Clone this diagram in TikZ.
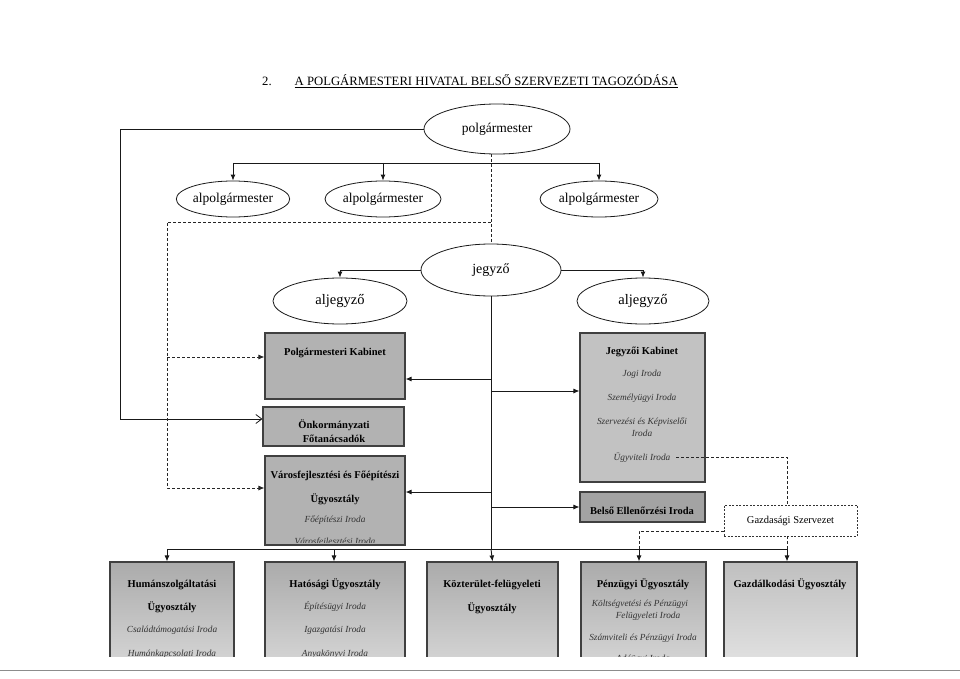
\documentclass[tikz,border=0pt]{standalone}
\usepackage{fontspec}
\setmainfont{Liberation Serif}
\usetikzlibrary{arrows.meta,shapes.geometric}
\begin{document}
\begin{tikzpicture}[x=1pt,y=-1pt,
  ell/.style={draw=black!90, line width=0.8pt, ellipse, inner sep=0pt, font=\fontsize{13.5}{15}\selectfont},
  gbox/.style={draw=black!75, line width=1.1pt, fill=black!30, inner sep=0pt},
  lbox/.style={draw=black!75, line width=1.1pt, top color=black!33, bottom color=black!12, inner sep=0pt},
  bt/.style={font=\fontsize{10.5}{12}\selectfont\bfseries, inner sep=0pt, text height=7.5pt, text depth=2.5pt, yshift=-2pt},
  itx/.style={font=\fontsize{9.3}{10.5}\selectfont\itshape, text=black!80, inner sep=0pt, text height=6.5pt, text depth=2pt, yshift=-1.5pt},
  conn/.style={line width=0.9pt, draw=black!90},
  dconn/.style={line width=0.9pt, draw=black!85, dash pattern=on 3pt off 2pt},
  arr/.style={-{Latex[length=6pt,width=5pt]}},
  oarr/.style={-{Straight Barb[length=6pt,width=9pt,line width=0.8pt]}},
]
\useasboundingbox (0,0) rectangle (960,679);

% title
\node[font=\fontsize{12.7}{14}\selectfont, anchor=base west, inner sep=0pt] (title) at (262,86) {2.\hspace{23pt}\underline{A POLGÁRMESTERI HIVATAL BELSŐ SZERVEZETI TAGOZÓDÁSA}};

% ellipses
\node[ell, minimum width=146pt, minimum height=50pt] (pm) at (497,129) {polgármester};
\node[ell, minimum width=112pt, minimum height=36pt] (a1) at (233,199) {\raisebox{-4pt}{alpolgármester}};
\node[ell, minimum width=116pt, minimum height=36pt] (a2) at (383,199) {\raisebox{-4pt}{alpolgármester}};
\node[ell, minimum width=118pt, minimum height=36pt] (a3) at (599,199) {\raisebox{-4pt}{alpolgármester}};
\node[ell, font=\fontsize{14}{16}\selectfont, minimum width=140pt, minimum height=52pt] (jg) at (491,270) {jegyző};
\node[ell, font=\fontsize{14.5}{16}\selectfont, minimum width=134pt, minimum height=46pt] (aj1) at (340,301) {aljegyző};
\node[ell, font=\fontsize{14.5}{16}\selectfont, minimum width=132pt, minimum height=46pt] (aj2) at (643,301) {aljegyző};

% upper boxes
\node[gbox, minimum width=140pt, minimum height=66pt] (pk) at (335,366) {};
\node[bt] (pkt) at (335,351) {Polgármesteri Kabinet};
\node[gbox, minimum width=141pt, minimum height=39pt] (ok) at (333.5,426.5) {};
\node[bt] (okt1) at (334,424) {Önkormányzati};
\node[bt] (okt2) at (334,438) {Főtanácsadók};
\node[gbox, minimum width=140pt, minimum height=89pt] (vf) at (335,500.5) {};
\node[bt] (vft1) at (335,474) {Városfejlesztési és Főépítészi};
\node[bt] (vft2) at (335,498) {Ügyosztály};
\node[itx] (vft3) at (335,519) {Főépítészi Iroda};
\begin{scope}
\clip (260,530) rectangle (410,542);
\node[itx] (vft4) at (335,541) {Városfejlesztési Iroda};
\end{scope}

\node[gbox, fill=black!24, minimum width=125pt, minimum height=149pt] (jk) at (642.5,407.5) {};
\node[bt] (jkt1) at (642,350) {Jegyzői Kabinet};
\node[itx] (jkt2) at (642,373) {Jogi Iroda};
\node[itx] (jkt3) at (642,397) {Személyügyi Iroda};
\node[itx] (jkt4) at (642,421) {Szervezési és Képviselői};
\node[itx] (jkt5) at (642,433) {Iroda};
\node[itx] (jkt6) at (642,457) {Ügyviteli Iroda};
\node[gbox, fill=black!36, minimum width=125pt, minimum height=30pt] (be) at (642.5,507) {};
\node[bt] (bet) at (642,510) {Belső Ellenőrzési Iroda};

\node[draw=black!80, line width=0.8pt, dash pattern=on 2pt off 1.5pt, fill=white, minimum width=133pt, minimum height=31pt, inner sep=0pt, font=\fontsize{10.5}{12}\selectfont] (gz) at (790.5,520.5) {Gazdasági Szervezet};

% lower boxes (cut at the bottom)
\begin{scope}
\clip (0,0) rectangle (960,656);
\node[lbox, minimum width=124pt, minimum height=130pt] (hu) at (172,627) {};
\node[lbox, minimum width=140pt, minimum height=130pt] (ha) at (335,627) {};
\node[lbox, minimum width=131pt, minimum height=130pt] (kt) at (492.5,627) {};
\node[lbox, minimum width=125pt, minimum height=130pt] (pz) at (643.5,627) {};
\node[lbox, top color=black!25, bottom color=black!8, minimum width=133pt, minimum height=130pt] (ga) at (790.5,627) {};
\node[bt] (hut1) at (172,583) {Humánszolgáltatási};
\node[bt] (hut2) at (172,606) {Ügyosztály};
\node[itx] (hut3) at (172,629) {Családtámogatási Iroda};
\node[itx] (hut4) at (172,653) {Humánkapcsolati Iroda};
\node[bt] (hat1) at (335,583) {Hatósági Ügyosztály};
\node[itx] (hat2) at (335,606) {Építésügyi Iroda};
\node[itx] (hat3) at (335,629) {Igazgatási Iroda};
\node[itx] (hat4) at (335,653) {Anyakönyvi Iroda};
\node[bt] (ktt1) at (492,583) {Közterület-felügyeleti};
\node[bt] (ktt2) at (492,607) {Ügyosztály};
\node[bt] (pzt1) at (643,583) {Pénzügyi Ügyosztály};
\node[itx] (pzt2) at (640,603) {Költségvetési és Pénzügyi};
\node[itx] (pzt3) at (648,615) {Felügyeleti Iroda};
\node[itx] (pzt4) at (643,637) {Számviteli és Pénzügyi Iroda};
\node[itx] (pzt5) at (643,658) {Adóügyi Iroda};
\node[bt] (gat1) at (790,583) {Gazdálkodási Ügyosztály};
\end{scope}

% coordinates
\coordinate (c1) at (120,129);
\coordinate (c2) at (120,419);
\coordinate (tb) at (233,163);
\coordinate (tbr) at (599,163);
\coordinate (d1) at (167,222);
\coordinate (d2) at (167,357);
\coordinate (d3) at (167,488);
\coordinate (s1) at (491,379);
\coordinate (s2) at (491,391);
\coordinate (s3) at (491,492);
\coordinate (s4) at (491,507);
\coordinate (bl) at (167,549);
\coordinate (bm) at (334,549);
\coordinate (bp) at (639,549);
\coordinate (br) at (787,549);
\coordinate (u1) at (676,457);
\coordinate (u2) at (787,457);
\coordinate (g1) at (724,531);
\coordinate (g2) at (639,531);

% solid connectors
\draw[conn, oarr] (pm.west) -- (c1) -- (c2) -- (ok.west |- c2);
\draw[conn] (tb) -- (tbr);
\draw[conn, arr] (tb) -- (a1.north);
\draw[conn, arr] (a2.north |- tb) -- (a2.north);
\draw[conn, arr] (tbr) -- (a3.north);
\draw[conn, arr] (jg.west) -| (aj1.north);
\draw[conn, arr] (jg.east) -| (aj2.north);
\draw[conn] (jg.south) -- (jg.south |- bl);
\draw[conn, arr] (s1) -- (pk.east |- s1);
\draw[conn, arr] (s2) -- (jk.west |- s2);
\draw[conn, arr] (s3) -- (vf.east |- s3);
\draw[conn, arr] (s4) -- (be.west |- s4);
\draw[conn] (bl) -- (br);
\draw[conn, arr] (bl) -- (bl |- hu.north);
\draw[conn, arr] (bm) -- (bm |- ha.north);
\draw[conn, arr] (jg.south |- bl) -- (kt.north);
\draw[conn, arr] (bp) -- (bp |- pz.north);
\draw[conn, arr] (br) -- (br |- ga.north);

% dashed connectors
\draw[dconn] (jg.north |- pm.south) -- (jg.north);
\draw[dconn, arr] (jg.north |- d1) -- (d1) -- (d3) -- (vf.west |- d3);
\draw[dconn, arr] (d2) -- (pk.west |- d2);
\draw[dconn] (u1) -- (u2) -- (u2 |- gz.north);
\draw[dconn] (g1) -- (g2) -- (bp);
\draw[dconn] (br |- gz.south) -- (br);

% scan edge line
\draw[black!45, line width=0.6pt] (0,670) -- (960,670);
\end{tikzpicture}
\end{document}
